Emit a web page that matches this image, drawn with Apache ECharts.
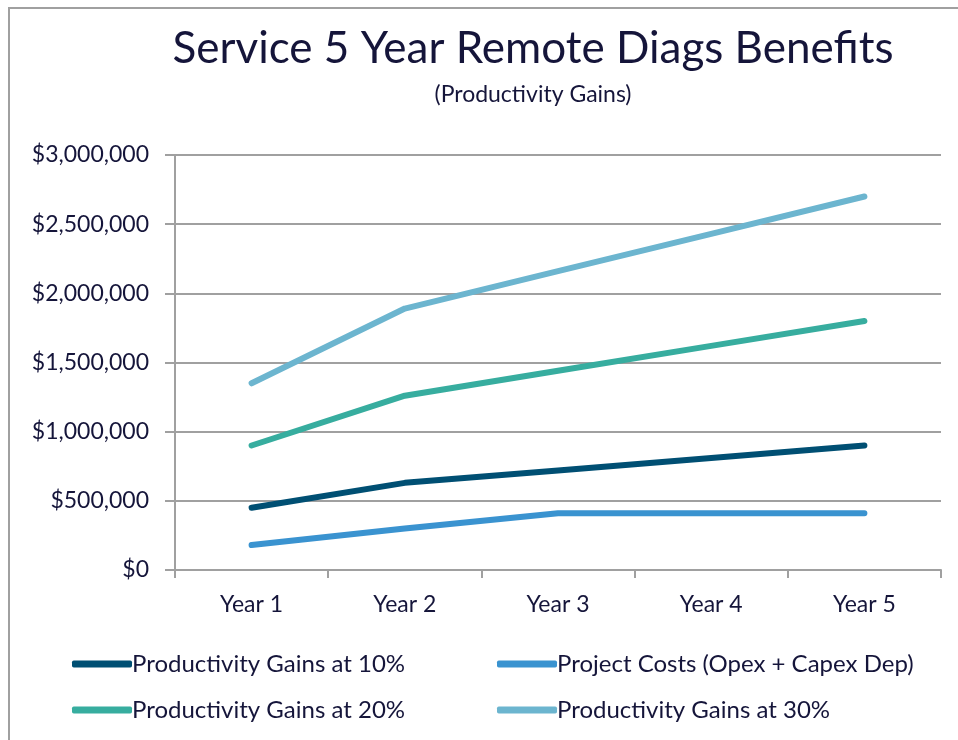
<!DOCTYPE html>
<html><head><meta charset="utf-8">
<script src="https://cdn.jsdelivr.net/npm/echarts@6/dist/echarts.min.js"></script>
<style>html,body{margin:0;padding:0;background:#fff}#c{width:958px;height:740px}</style>
</head><body><div id="c"></div>
<script>
const categories = ['Year 1','Year 2','Year 3','Year 4','Year 5'];
const gains10 = [450000, 630000, 720000, 810000, 900000];
const costs = [180000, 300000, 410000, 410000, 410000];
const gains20 = [900000, 1260000, 1440000, 1620000, 1800000];
const gains30 = [1350000, 1890000, 2160000, 2430000, 2700000];
const yTicks = [0, 500000, 1000000, 1500000, 2000000, 2500000, 3000000];

const FONT = 'Lato';
const TXT = '#15153a';
const chart = echarts.init(document.getElementById('c'));
function fmt(v){ return '$' + v.toString().replace(/\B(?=(\d{3})+(?!\d))/g, ','); }
function ser(name, data, color){
  return {name, type:'line', data, symbol:'none', smooth:false,
    lineStyle:{color, width:6, cap:'round', join:'round'}, itemStyle:{color}};
}
chart.setOption({
  animation:false,
  textStyle:{fontFamily:FONT},
  graphic:[{type:'rect', shape:{x:9,y:8,width:1200,height:1200}, style:{fill:'none', stroke:'#a0a0a0', lineWidth:2}, silent:true}],
  title:{text:'Service 5 Year Remote Diags Benefits', subtext:'(Productivity Gains)', left:528, textAlign:'center', top:22,
    textStyle:{fontFamily:FONT, fontSize:44, fontWeight:'normal', color:TXT},
    subtextStyle:{fontFamily:FONT, fontSize:23, color:TXT}, itemGap:12},
  grid:{left:175, right:17, top:155, bottom:170},
  legend:[
    {left:67, top:647, orient:'vertical', itemGap:22, itemWidth:60, itemHeight:7, icon:'roundRect',
     data:['Productivity Gains at 10%','Productivity Gains at 20%'],
     textStyle:{fontFamily:FONT, fontSize:24, color:TXT, padding:[0,0,0,-5]}},
    {left:492, top:647, orient:'vertical', itemGap:22, itemWidth:60, itemHeight:7, icon:'roundRect',
     data:['Project Costs (Opex + Capex Dep)','Productivity Gains at 30%'],
     textStyle:{fontFamily:FONT, fontSize:24, color:TXT, padding:[0,0,0,-5]}}
  ],
  xAxis:{type:'category', data:categories, boundaryGap:true,
    axisLine:{lineStyle:{color:'#a0a0a0', width:2}},
    axisTick:{show:true, length:8, lineStyle:{color:'#a0a0a0', width:2}},
    axisLabel:{fontFamily:FONT, fontSize:23, color:TXT, margin:23}},
  yAxis:{type:'value', min:yTicks[0], max:yTicks[yTicks.length-1], interval:500000,
    axisLine:{show:true, lineStyle:{color:'#a0a0a0', width:2}},
    axisTick:{show:true, length:10, lineStyle:{color:'#a0a0a0', width:2}},
    splitLine:{lineStyle:{color:'#a0a0a0', width:2}},
    axisLabel:{fontFamily:FONT, fontSize:23, color:TXT, margin:26, formatter:fmt}},
  series:[
    ser('Productivity Gains at 10%', gains10, '#004f73'),
    ser('Project Costs (Opex + Capex Dep)', costs, '#3a93d0'),
    ser('Productivity Gains at 20%', gains20, '#37ad9f'),
    ser('Productivity Gains at 30%', gains30, '#6cb5cf')
  ]
});
</script></body></html>
